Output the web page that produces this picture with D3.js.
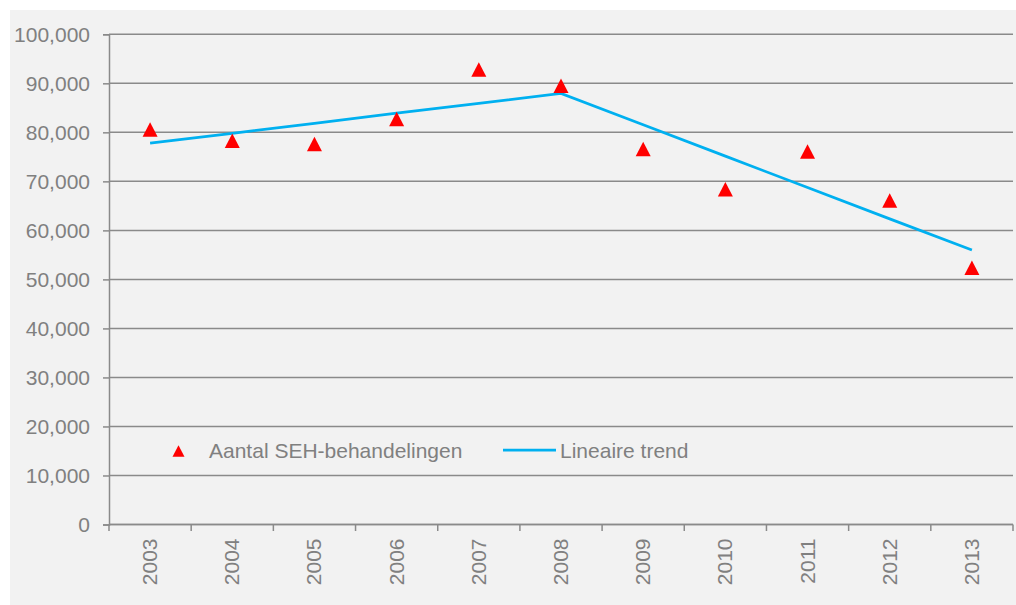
<!DOCTYPE html>
<html>
<head>
<meta charset="utf-8">
<script src="https://cdn.jsdelivr.net/npm/d3@7"></script>
<style>
  html, body { margin: 0; padding: 0; background: #ffffff; }
  svg { display: block; font-family: "Liberation Sans", Arial, sans-serif; }
</style>
</head>
<body>
<svg id="chart" width="1016" height="605"></svg>
<script>
// ---- data ----
const years = ["2003","2004","2005","2006","2007","2008","2009","2010","2011","2012","2013"];
const behandelingen = [80600, 78300, 77600, 82700, 92800, 89500, 76600, 68400, 76100, 66100, 52400];
const trend = [77800, 79800, 81850, 83900, 85900, 87950, 81550, 75150, 68750, 62350, 56000];
const yTicks = [0, 10000, 20000, 30000, 40000, 50000, 60000, 70000, 80000, 90000, 100000];
const seriesNames = ["Aantal SEH-behandelingen", "Lineaire trend"];

(function () {
// ---- layout ----
const svg = d3.select("#chart");
const mLeft = 109, mRight = 1013, mTop = 34.3, mBottom = 524.5;
const gridColor = "#8a8a8a", textColor = "#808080";

svg.append("rect").attr("x", 10).attr("y", 10).attr("width", 1006).attr("height", 595).attr("fill", "#f2f2f2");

const x = d3.scaleBand().domain(years).range([mLeft, mRight]).padding(0);
const y = d3.scaleLinear().domain([0, 100000]).range([mBottom, mTop]);

// gridlines
svg.append("g").selectAll("line").data(yTicks).join("line")
  .attr("x1", mLeft).attr("x2", mRight)
  .attr("y1", d => y(d)).attr("y2", d => y(d))
  .attr("stroke", gridColor).attr("stroke-width", 1.5);

// y axis
const yAxis = d3.axisLeft(y).tickValues(yTicks).tickSize(6).tickPadding(13)
  .tickFormat(d3.format(","));
const gy = svg.append("g").attr("transform", `translate(${mLeft},0)`).call(yAxis);
gy.select(".domain").attr("stroke", gridColor).attr("stroke-width", 1.5);
gy.selectAll(".tick line").attr("stroke", gridColor).attr("stroke-width", 1.5);
gy.selectAll(".tick text").attr("fill", textColor).attr("font-size", "21px")
  .attr("font-family", "Liberation Sans, Arial, sans-serif");

// x axis (ticks at band boundaries)
const gx = svg.append("g").attr("transform", `translate(0,${mBottom})`);
gx.append("line").attr("x1", mLeft).attr("x2", mRight).attr("y1", 0).attr("y2", 0)
  .attr("stroke", gridColor).attr("stroke-width", 1.5);
const boundaries = years.map(d => x(d)).concat([x(years[years.length - 1]) + x.bandwidth()]);
gx.selectAll("line.tk").data(boundaries).join("line").attr("class", "tk")
  .attr("x1", d => d).attr("x2", d => d).attr("y1", 0).attr("y2", 6.5)
  .attr("stroke", gridColor).attr("stroke-width", 1.5);
gx.selectAll("text").data(years).join("text")
  .attr("transform", d => `translate(${x(d) + x.bandwidth() / 2 + 7},14) rotate(-90)`)
  .attr("text-anchor", "end")
  .attr("fill", textColor).attr("font-size", "21px")
  .text(d => d);

// trend line
const line = d3.line().x((d, i) => x(years[i]) + x.bandwidth() / 2).y(d => y(d));
svg.append("path").datum(trend).attr("d", line)
  .attr("fill", "none").attr("stroke", "#00b0f0").attr("stroke-width", 2.75);

// triangle markers
function tri(cx, cy, w, h) {
  return `M${cx},${cy - h / 2}L${cx + w / 2},${cy + h / 2}L${cx - w / 2},${cy + h / 2}Z`;
}
svg.append("g").selectAll("path").data(behandelingen).join("path")
  .attr("d", (d, i) => tri(x(years[i]) + x.bandwidth() / 2, y(d), 15, 14.5))
  .attr("fill", "#ff0000");

// legend
const lg = svg.append("g");
lg.append("path").attr("d", tri(178.5, 451, 12, 11.5)).attr("fill", "#ff0000");
lg.append("text").attr("x", 209).attr("y", 458).attr("fill", textColor).attr("font-size", "21px")
  .text(seriesNames[0]);
lg.append("line").attr("x1", 503).attr("x2", 556).attr("y1", 450).attr("y2", 450)
  .attr("stroke", "#00b0f0").attr("stroke-width", 2.75);
lg.append("text").attr("x", 560).attr("y", 458).attr("fill", textColor).attr("font-size", "21px")
  .text(seriesNames[1]);
})();
</script>
</body>
</html>
